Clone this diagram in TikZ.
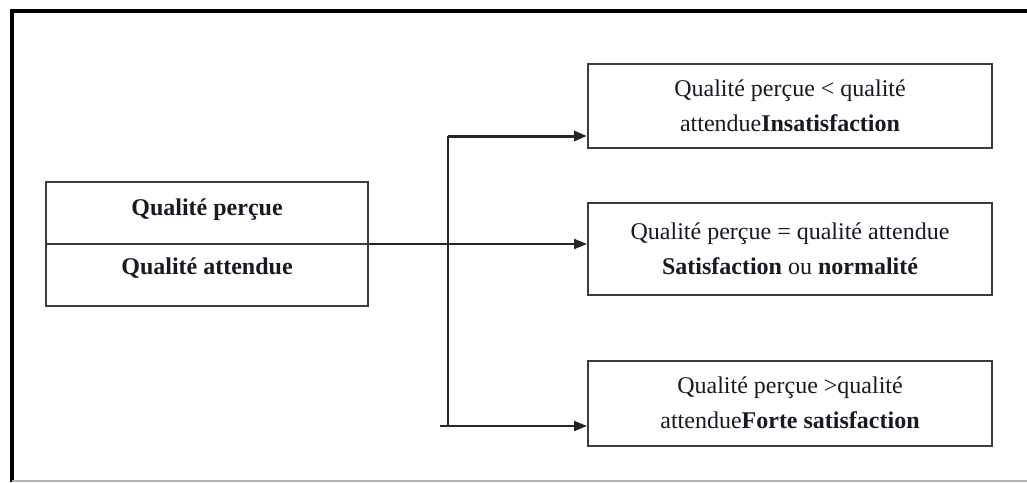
\documentclass[tikz,border=0pt]{standalone}
\usepackage{fontspec}
\setmainfont{Liberation Serif}
\usetikzlibrary{arrows.meta}
\definecolor{ink}{RGB}{25,25,35}
\definecolor{edge}{RGB}{60,60,60}
\tikzset{
  box/.style={draw=edge, line width=2pt, minimum width=404pt, inner sep=0pt, align=center, text=ink,
              font=\fontsize{24}{35}\selectfont},
  leftbox/.style={draw=edge, line width=2pt, minimum width=322pt, minimum height=124pt, inner sep=0pt},
  lbl/.style={text=ink, font=\fontsize{24}{30}\selectfont\bfseries, inner sep=0pt},
  conn/.style={draw=black!85, line width=2pt},
  arr/.style={conn, -{Triangle[length=13pt,width=10pt]}},
  frame/.style={draw=black, line width=4pt}
}
\begin{document}
\begin{tikzpicture}[x=1pt,y=-1pt]
\useasboundingbox (0,0) rectangle (1027,482);
\fill[white] (0,0) rectangle (1027,482);
% frame
\draw[frame] (1027,11) -- (12,11) -- (12,482);
\draw[black!30, line width=1.5pt] (12,481) -- (1027,481);
% left box
\node[leftbox] (left) at (207,244) {};
\draw[draw=edge, line width=2pt] (left.west) -- (left.east);
\node[lbl] (lp) at (207,210) {Qualité perçue};
\node[lbl] (la) at (207,268) {Qualité attendue};
% right boxes
\node[box, minimum height=84pt] (top) at (790,106) {Qualité perçue < qualité\\attendue\textbf{Insatisfaction}};
\node[box, minimum height=92pt] (mid) at (790,249) {Qualité perçue = qualité attendue\\\textbf{Satisfaction} ou \textbf{normalité}};
\node[box, minimum height=85pt] (bot) at (790,403) {Qualité perçue >qualité\\attendue\textbf{Forte satisfaction}};
% connectors
\coordinate (vt) at (448,136);
\coordinate (vb) at (448,426);
\coordinate (bs) at (440,426);
\draw[conn] (vt) -- (vb);
\draw[arr, line width=3pt] (vt) -- (vt -| top.west);
\draw[arr] (left.east) -- (left.east -| mid.west);
\draw[arr] (bs) -- (bs -| bot.west);
\end{tikzpicture}
\end{document}
